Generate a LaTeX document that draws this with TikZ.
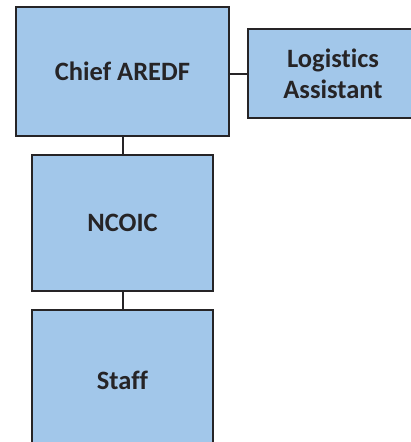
\documentclass[tikz,border=0pt]{standalone}
\usepackage{fontspec}
\setmainfont[Ligatures=NoCommon]{Carlito}
\definecolor{boxfill}{RGB}{162,199,234}
\definecolor{boxline}{RGB}{38,36,38}
\begin{document}
\begin{tikzpicture}[x=1pt,y=-1pt,
  orgbox/.style={draw=boxline, fill=boxfill, line width=2pt, rectangle, inner sep=0pt,
    font=\fontsize{26.5}{31}\selectfont\bfseries, text=boxline, align=center},
  link/.style={draw=boxline, line width=2pt}]
\useasboundingbox (0,0) rectangle (411,442);
\clip (0,0) rectangle (411,442);
\node[orgbox, minimum width=213pt, minimum height=129pt] (chief) at (122.5,71.5) {Chief AREDF};
\node[orgbox, minimum width=170pt, minimum height=89pt] (log) at (333,73.5) {Logistics\\Assistant};
\node[orgbox, minimum width=181pt, minimum height=136pt] (ncoic) at (122.5,223) {NCOIC};
\node[orgbox, minimum width=181pt, minimum height=140pt] (staff) at (122.5,380) {Staff};
\draw[link] (log.west) -- (log.west -| chief.east);
\draw[link] (chief.south) -- (ncoic.north);
\draw[link] (ncoic.south) -- (staff.north);
\end{tikzpicture}
\end{document}
